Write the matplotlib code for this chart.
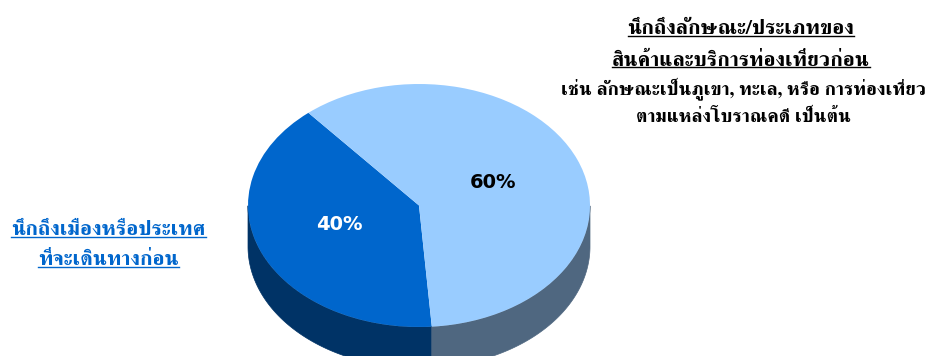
import numpy as np
import matplotlib
matplotlib.use('Agg')
import matplotlib.pyplot as plt

W, H = 929, 356
values = [40, 60]
pct_labels = ['40%', '60%']
top_colors = ['#0066CC', '#99CCFF']
side_colors = ['#003366', '#4F6780']
right_title = ['นึกถึงลักษณะ/ประเภทของ', 'สินค้าและบริการท่องเที่ยวก่อน']
right_note = ['เช่น ลักษณะเป็นภูเขา, ทะเล, หรือ การท่องเที่ยว', 'ตามแหล่งโบราณคดี เป็นต้น']
left_title = ['นึกถึงเมืองหรือประเทศ', 'ที่จะเดินทางก่อน']
THAI = ['FreeSerif', 'DejaVu Sans']

cx, cy, rx, ry, depth = 419, 205.5, 171, 121.5, 41
start = 130.3

fig = plt.figure(figsize=(W/100, H/100), dpi=100)
ax = fig.add_axes([0, 0, 1, 1])

# front wall of the pie, one piece per slice
edges = start + np.cumsum([0] + values) * 3.6
d = depth / ry
for a, b, c in zip(edges[:-1], edges[1:], side_colors):
    th = np.radians(np.linspace(a, b, 400))
    t = th[np.sin(th) <= 0]
    ax.fill(np.r_[np.cos(t), np.cos(t[::-1])],
            np.r_[np.sin(t), np.sin(t[::-1]) - d], color=c, lw=0.5)

ax.pie(values, colors=top_colors, startangle=start, radius=1,
       wedgeprops=dict(lw=0))
ax.set_aspect('auto')
ax.set_xlim(-cx / rx, (W - cx) / rx)
ax.set_ylim((cy - H) / ry, cy / ry)
ax.axis('off')

def px(x, y):
    return x / W, 1 - y / H

def under(x, y, s, color, size):
    t = fig.text(*px(x, y), s, ha='center', va='baseline', color=color,
                 fontsize=size, family=THAI, weight='bold')
    bb = t.get_window_extent(fig.canvas.get_renderer())
    yy = 1 - (y + 1.5) / H
    fig.add_artist(plt.Line2D([bb.x0 / W, bb.x1 / W], [yy, yy], color=color, lw=1))

for s, y in zip(right_title, (34.5, 65.5)):
    under(741, y, s, 'black', 15.4)
for s, y in zip(left_title, (235, 265)):
    under(108.5, y, s, '#0066CC', 15.4)
for s, y in zip(right_note, (94.5, 122)):
    fig.text(*px(743.5, y), s, ha='center', va='baseline', color='black',
             fontsize=13.75, family=THAI, weight='bold')

fig.text(*px(339, 224), pct_labels[0], ha='center', va='center', color='white',
         fontsize=14, weight='bold', family='DejaVu Sans')
fig.text(*px(493, 182), pct_labels[1], ha='center', va='center', color='black',
         fontsize=14, weight='bold', family='DejaVu Sans')
fig.savefig('out.png', dpi=100)
